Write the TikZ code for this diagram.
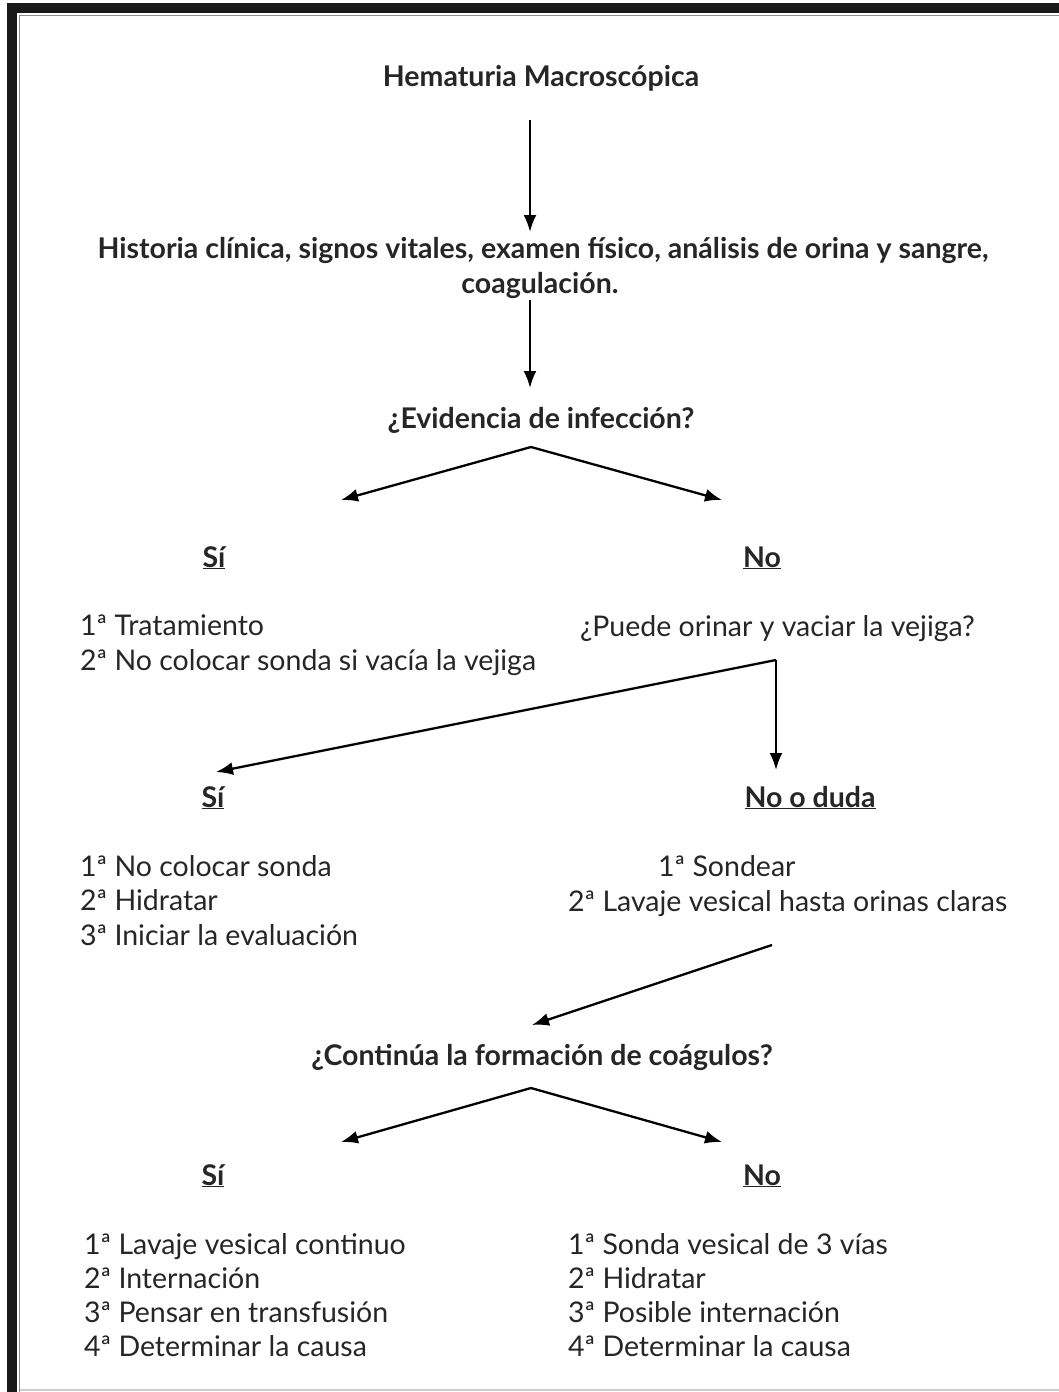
\documentclass[tikz,border=0pt]{standalone}
\usepackage{fontspec}
\setmainfont{Lato}
\usetikzlibrary{arrows.meta}
\begin{document}
\begin{tikzpicture}[x=1pt,y=-1pt,
  texto/.style={inner sep=0pt,yshift=-7.5pt,text=black!85,font=\fontsize{28.5}{34}\selectfont},
  pregunta/.style={texto,font=\fontsize{28.5}{34}\selectfont\bfseries},
  flecha/.style={line width=2.3pt,-{Latex[length=17pt,width=13pt]}}]
\useasboundingbox (0,0) rectangle (1059,1392);
% marco
\fill[black!90] (8,3) rectangle (1059,13);
\fill[black!90] (7,3) rectangle (17,1392);
\draw[black!45,line width=1pt] (19.5,15) -- (1059,15);
\draw[black!45,line width=1pt] (19.5,15) -- (19.5,1392);
\draw[black!20,line width=1.5pt] (19.5,1390) -- (1059,1390);
% titulo y primeras preguntas
\node[pregunta,anchor=mid] (hema) at (541,76) {Hematuria Macroscópica};
\node[pregunta,anchor=mid] (hist1) at (543,248) {Historia clínica, signos vitales, examen físico, análisis de orina y sangre,};
\node[pregunta,anchor=mid] (hist2) at (540,283) {coagulación.};
\node[pregunta,anchor=mid] (evid) at (541,418) {¿Evidencia de infección?};
\node[pregunta,anchor=mid] (si1) at (214,557) {\underline{Sí}};
\node[pregunta,anchor=mid] (no1) at (762,557) {\underline{No}};
% primera rama
\node[texto,anchor=mid west] (si1a) at (80,625) {1ª Tratamiento};
\node[texto,anchor=mid west] (si1b) at (80,660) {2ª No colocar sonda si vacía la vejiga};
\node[texto,anchor=mid west] (puede) at (580,626) {¿Puede orinar y vaciar la vejiga?};
\node[pregunta,anchor=mid] (si2) at (213,797) {\underline{Sí}};
\node[pregunta,anchor=mid] (duda) at (810,797) {\underline{No o duda}};
\node[texto,anchor=mid west] (si2a) at (80,866) {1ª No colocar sonda};
\node[texto,anchor=mid west] (si2b) at (80,900) {2ª Hidratar};
\node[texto,anchor=mid west] (si2c) at (80,935) {3ª Iniciar la evaluación};
\node[texto,anchor=mid west] (duda1) at (658,866) {1ª Sondear};
\node[texto,anchor=mid west] (duda2) at (568,901) {2ª Lavaje vesical hasta orinas claras};
% coagulos
\node[pregunta,anchor=mid] (coag) at (542,1055) {¿Continúa la formación de coágulos?};
\node[pregunta,anchor=mid] (si3) at (213,1175) {\underline{Sí}};
\node[pregunta,anchor=mid] (no3) at (762,1175) {\underline{No}};
\node[texto,anchor=mid west] (si3a) at (84,1244) {1ª Lavaje vesical continuo};
\node[texto,anchor=mid west] (si3b) at (84,1278) {2ª Internación};
\node[texto,anchor=mid west] (si3c) at (84,1312) {3ª Pensar en transfusión};
\node[texto,anchor=mid west] (si3d) at (84,1346) {4ª Determinar la causa};
\node[texto,anchor=mid west] (no3a) at (568,1244) {1ª Sonda vesical de 3 vías};
\node[texto,anchor=mid west] (no3b) at (568,1278) {2ª Hidratar};
\node[texto,anchor=mid west] (no3c) at (568,1312) {3ª Posible internación};
\node[texto,anchor=mid west] (no3d) at (568,1346) {4ª Determinar la causa};
% puntos de las flechas
\coordinate (f1) at (530,120);
\coordinate (f1b) at (530,232);
\coordinate (f2) at (530,300);
\coordinate (f2b) at (530,388);
\coordinate (r1) at (531,447);
\coordinate (r1i) at (341,500);
\coordinate (r1d) at (722,500);
\coordinate (r2) at (776,660);
\coordinate (r2i) at (216,772);
\coordinate (r2d) at (776,770);
\coordinate (f3) at (772,945);
\coordinate (f3b) at (532,1025);
\coordinate (r3) at (531,1088);
\coordinate (r3i) at (341,1142);
\coordinate (r3d) at (722,1142);
% flechas
\draw[flecha] (f1) -- (f1b);
\draw[flecha] (f2) -- (f2b);
\draw[flecha] (r1) -- (r1i);
\draw[flecha] (r1) -- (r1d);
\draw[flecha] (r2) -- (r2i);
\draw[flecha] (r2) -- (r2d);
\draw[flecha] (f3) -- (f3b);
\draw[flecha] (r3) -- (r3i);
\draw[flecha] (r3) -- (r3d);
\end{tikzpicture}
\end{document}
